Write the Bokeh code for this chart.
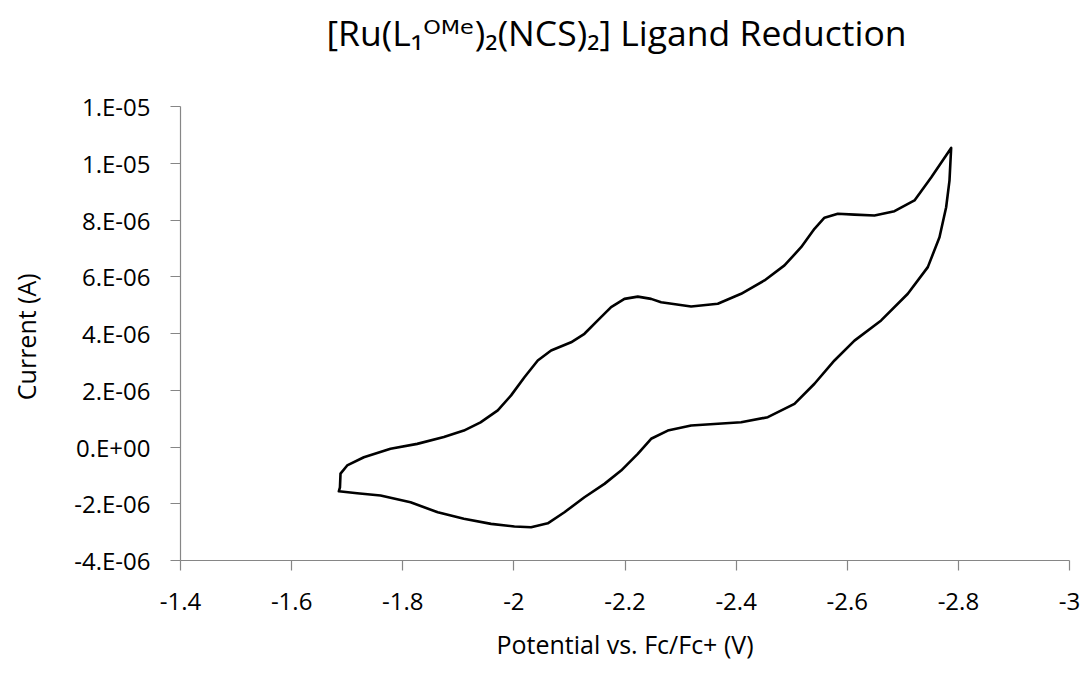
import numpy as np
from bokeh.plotting import figure
from bokeh.models import Range1d, FixedTicker, Title
from bokeh.embed import file_html
from bokeh.resources import INLINE

# Forward (cathodic) scan, potential in V vs Fc/Fc+, current in A
potential_fwd = [-1.685, -1.687, -1.688, -1.700, -1.730, -1.778, -1.826, -1.874, -1.910, -1.940,
                 -1.971, -1.995, -2.019, -2.043, -2.067, -2.103, -2.127, -2.151, -2.175, -2.199,
                 -2.223, -2.247, -2.265, -2.319, -2.367, -2.409, -2.451, -2.487, -2.517, -2.541,
                 -2.559, -2.583, -2.613, -2.649, -2.685, -2.721, -2.751, -2.787]
current_fwd = [-1.56e-6, -1.42e-6, -0.94e-6, -0.65e-6, -0.36e-6, -0.06e-6, 0.11e-6, 0.35e-6, 0.58e-6, 0.87e-6,
               1.29e-6, 1.82e-6, 2.46e-6, 3.05e-6, 3.40e-6, 3.69e-6, 3.99e-6, 4.46e-6, 4.93e-6, 5.22e-6,
               5.30e-6, 5.22e-6, 5.10e-6, 4.95e-6, 5.05e-6, 5.40e-6, 5.87e-6, 6.40e-6, 7.04e-6, 7.69e-6,
               8.08e-6, 8.22e-6, 8.19e-6, 8.16e-6, 8.31e-6, 8.69e-6, 9.50e-6, 10.54e-6]

# Reverse (anodic) scan
potential_rev = [-2.784, -2.778, -2.766, -2.745, -2.709, -2.661, -2.613, -2.577, -2.541, -2.505,
                 -2.457, -2.409, -2.319, -2.277, -2.247, -2.223, -2.193, -2.163, -2.127, -2.091,
                 -2.061, -2.031, -2.001, -1.959, -1.910, -1.863, -1.814, -1.760, -1.718, -1.685]
current_rev = [9.39e-6, 8.45e-6, 7.39e-6, 6.34e-6, 5.40e-6, 4.46e-6, 3.75e-6, 3.05e-6, 2.23e-6, 1.52e-6,
               1.05e-6, 0.87e-6, 0.76e-6, 0.58e-6, 0.29e-6, -0.24e-6, -0.83e-6, -1.30e-6, -1.77e-6, -2.30e-6,
               -2.69e-6, -2.83e-6, -2.80e-6, -2.71e-6, -2.53e-6, -2.30e-6, -1.95e-6, -1.71e-6, -1.63e-6, -1.56e-6]

x_ticks = [-1.4, -1.6, -1.8, -2.0, -2.2, -2.4, -2.6, -2.8, -3.0]
x_tick_labels = ["-1.4", "-1.6", "-1.8", "-2", "-2.2", "-2.4", "-2.6", "-2.8", "-3"]
y_ticks = [-4e-6, -2e-6, 0.0, 2e-6, 4e-6, 6e-6, 8e-6, 10e-6, 12e-6]
y_tick_labels = ["-4.E-06", "-2.E-06", "0.E+00", "2.E-06", "4.E-06", "6.E-06", "8.E-06", "1.E-05", "1.E-05"]

title_text = "[Ru(L\u2081\u1D3C\u1D39\u1D49)\u2082(NCS)\u2082] Ligand Reduction"

FONT = "Open Sans"
TITLE_FONT = "'Open Sans', 'DejaVu Sans', sans-serif"
AXIS_GRAY = "#868686"

p = figure(width=1084, height=679, output_backend="svg", toolbar_location=None,
           x_range=Range1d(x_ticks[0], x_ticks[-1]), y_range=Range1d(y_ticks[0], y_ticks[-1]),
           min_border_left=180, min_border_right=15, min_border_top=106, min_border_bottom=119)
p.outline_line_color = None
p.xgrid.visible = False
p.ygrid.visible = False
p.background_fill_color = "white"
p.border_fill_color = "white"

# main title (drawn farthest from the frame)
p.title.text = title_text
p.title.text_font = TITLE_FONT
p.title.text_font_size = "35.5px"
p.title.text_font_style = "normal"
p.title.text_color = "black"
p.title.align = "left"
p.title.offset = 146
p.title.standoff = 0
# blank spacer panel between the title and the plot frame
p.add_layout(Title(text=" ", text_font_size="2px", standoff=47), "above")

E = np.array(potential_fwd + potential_rev)
I = np.array(current_fwd + current_rev)
p.line(E, I, line_color="black", line_width=2.6, line_join="round", line_cap="round")

p.xaxis.ticker = FixedTicker(ticks=x_ticks)
p.xaxis.major_label_overrides = {t: s for t, s in zip(x_ticks, x_tick_labels)}
p.yaxis.ticker = FixedTicker(ticks=y_ticks)
p.yaxis.major_label_overrides = {t: s for t, s in zip(y_ticks, y_tick_labels)}
p.xaxis.axis_label = "Potential vs. Fc/Fc+ (V)"
p.yaxis.axis_label = "Current  (A)"

for ax in (p.xaxis[0], p.yaxis[0]):
    ax.axis_line_color = AXIS_GRAY
    ax.axis_line_width = 1.2
    ax.major_tick_line_color = AXIS_GRAY
    ax.major_tick_line_width = 1.2
    ax.minor_tick_line_color = None
    ax.major_tick_in = 0
    ax.major_tick_out = 10
    ax.major_label_text_font = FONT
    ax.major_label_text_font_size = "24px"
    ax.major_label_text_color = "black"
    ax.axis_label_text_font = FONT
    ax.axis_label_text_font_size = "25px"
    ax.axis_label_text_font_style = "normal"
    ax.axis_label_text_color = "black"
p.xaxis.major_label_standoff = 22
p.yaxis.major_label_standoff = 20
p.xaxis.axis_label_standoff = 14
p.yaxis.axis_label_standoff = 28

open("out.html", "w").write(file_html(p, INLINE))
